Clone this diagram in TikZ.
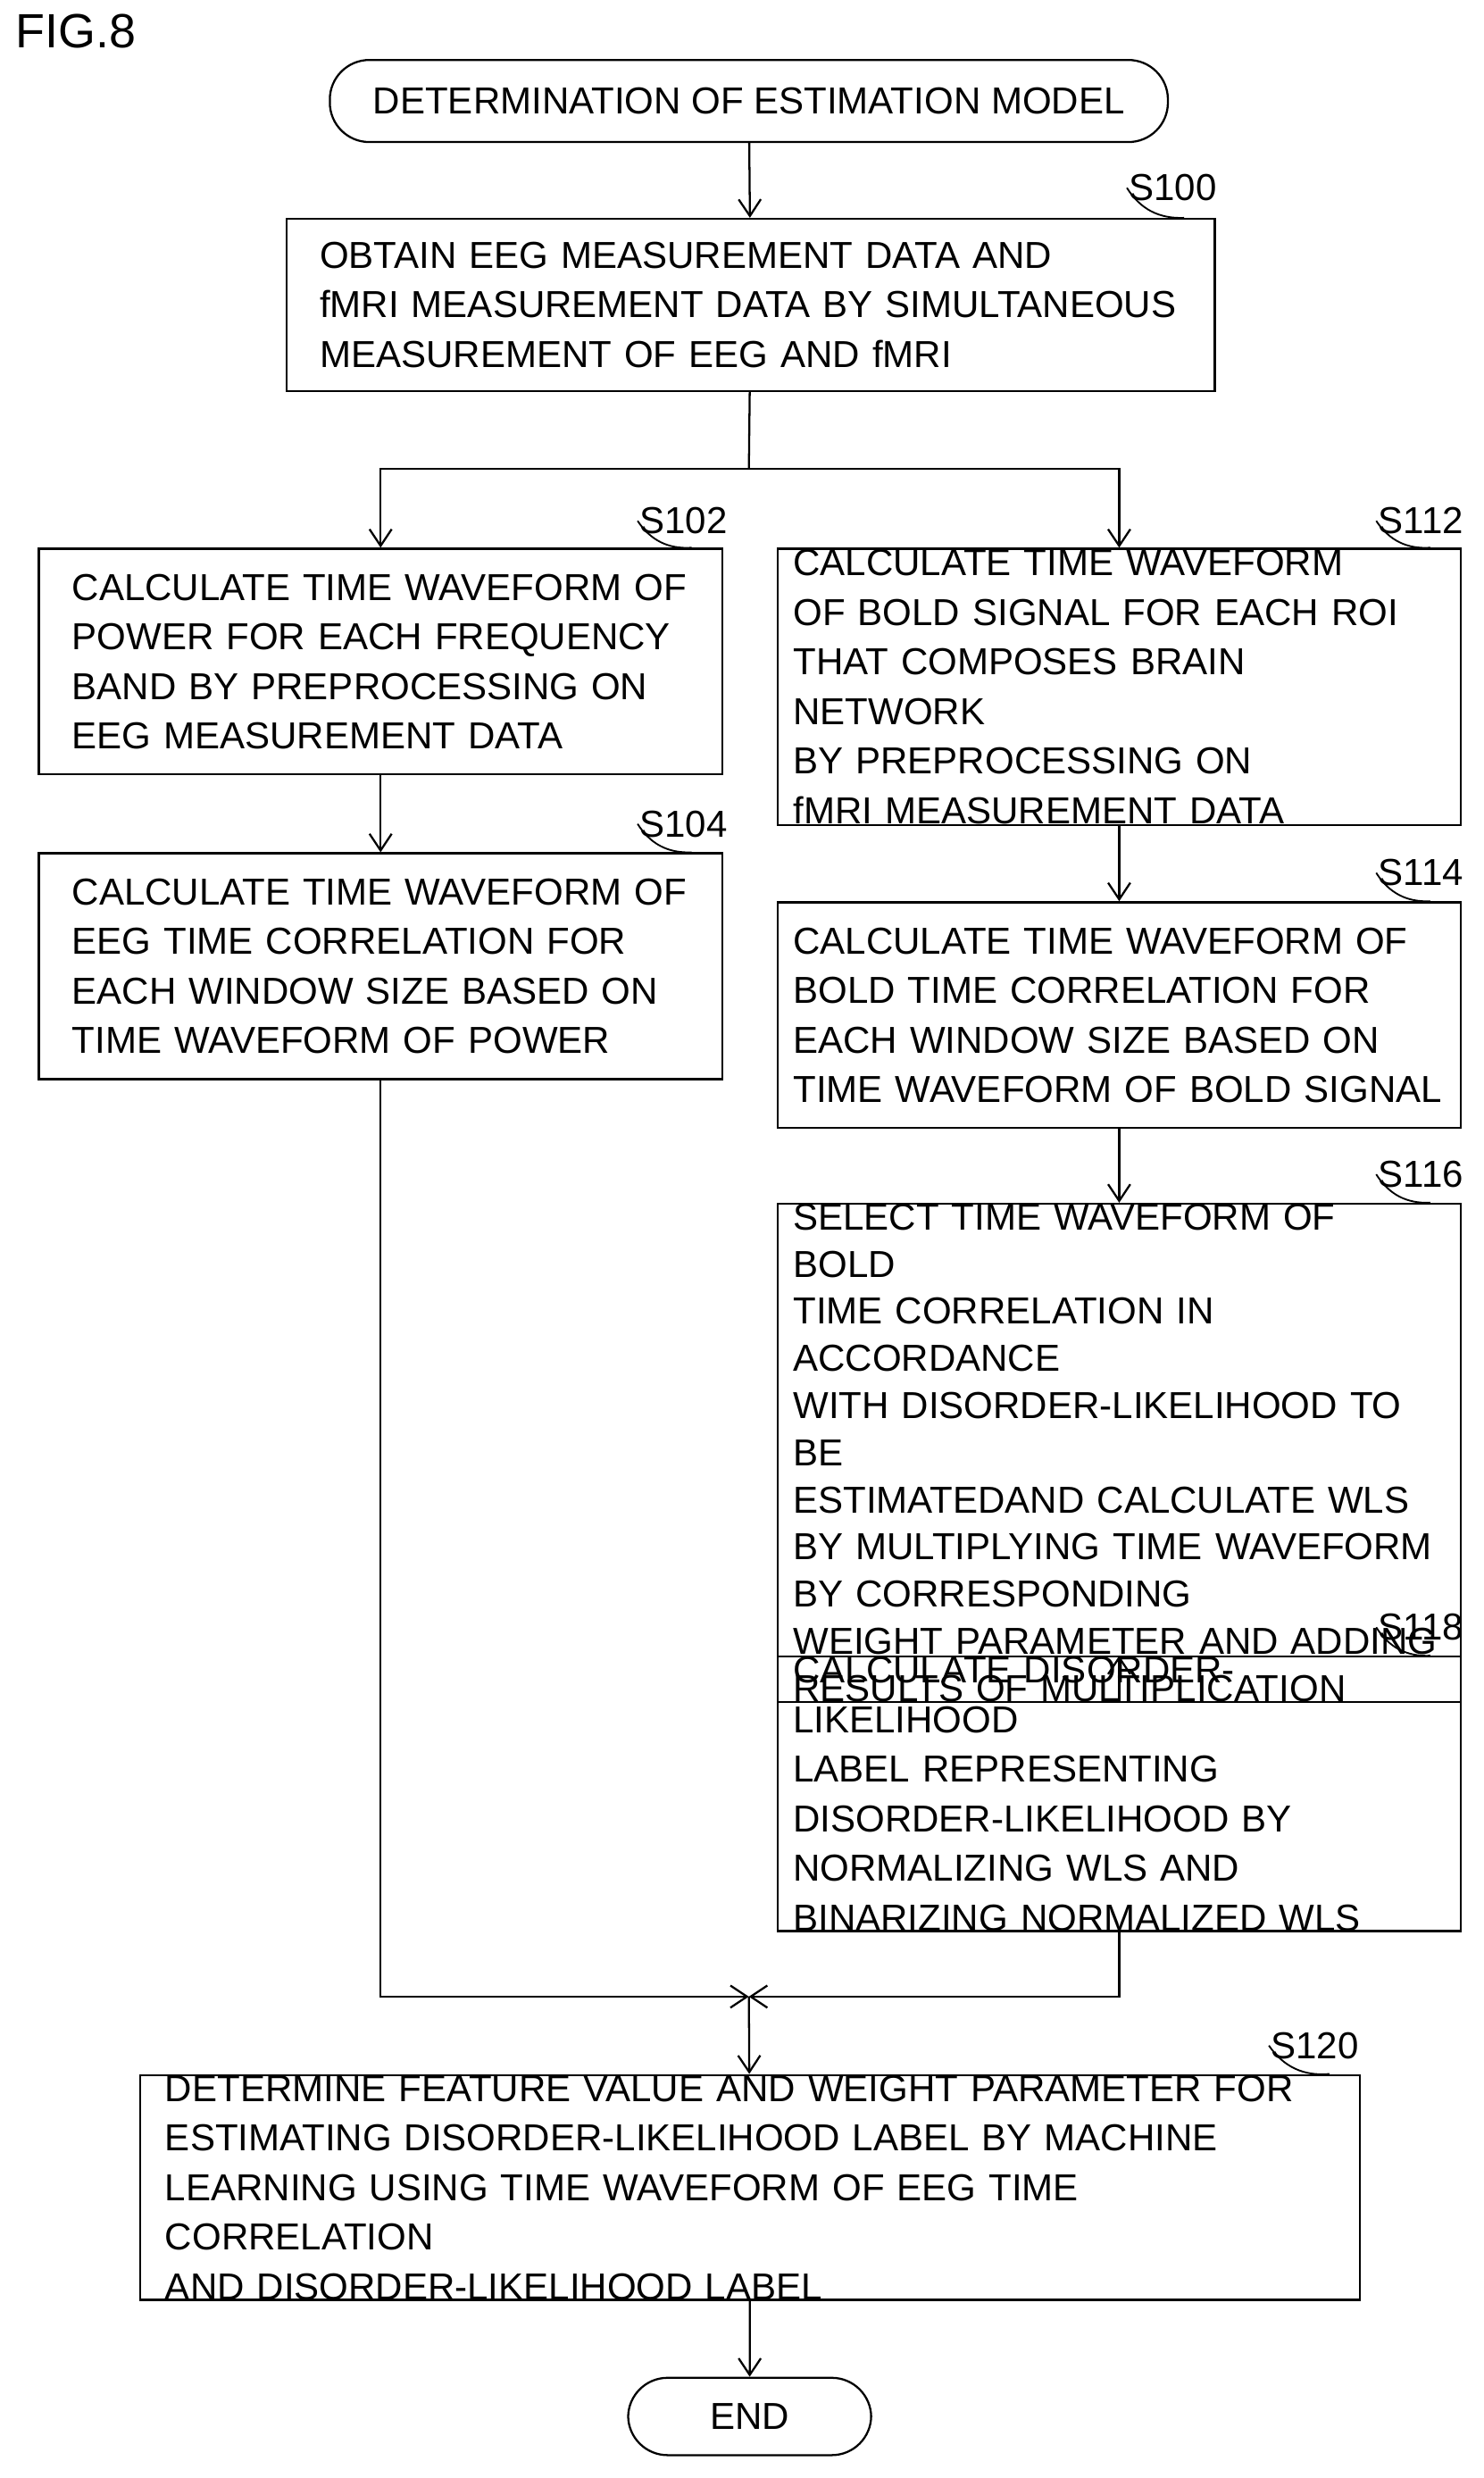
\documentclass[tikz,border=0pt]{standalone}
\usepackage{fontspec}
\setmainfont{Liberation Sans}
\usetikzlibrary{arrows.meta,positioning}
\newcommand\boxfont{\fontsize{20.3}{26.8}\selectfont\hyphenpenalty=10000\relax\hbadness=10000\relax}
\newcommand\tightfont{\fontsize{20.3}{25.5}\selectfont\hyphenpenalty=10000\relax\hbadness=10000\relax}
\tikzset{
  box/.style={draw, line width=1.1pt, anchor=north west, align=left,
    inner xsep=0.63cm, inner ysep=0pt, font=\boxfont},
  rbox/.style={box, inner xsep=0.3cm, text width=12.39cm},
  lbox/.style={box, text width=11.73cm},
  term/.style={draw, line width=1.1pt, rounded corners=0.75cm,
    font=\fontsize{20.3}{22}\selectfont},
  steplabel/.style={anchor=west, inner sep=1pt, font=\fontsize{20.3}{22}\selectfont},
  leader/.style={line width=0.9pt},
  flow/.style={line width=1.1pt, -{Straight Barb[length=9pt,width=12pt]}},
  line/.style={line width=1.1pt}
}
\begin{document}
\begin{tikzpicture}[x=0.03cm,y=-0.03cm]
\useasboundingbox (0,0) rectangle (940,1570);
\node[anchor=north west, font=\fontsize{26}{30}\selectfont] (fig) at (6,5) {FIG.8};

% start and end
\node[term, minimum width=15.93cm, minimum height=1.56cm] (start) at (474.5,64) {DETERMINATION OF ESTIMATION MODEL};
\node[term, minimum width=4.62cm, minimum height=1.47cm] (end) at (475,1531) {END};

% process boxes
\node[box, text width=16.38cm, minimum height=3.27cm] (s100) at (181,138)
  {OBTAIN EEG MEASUREMENT DATA AND\\ fMRI MEASUREMENT DATA BY SIMULTANEOUS\\ MEASUREMENT OF EEG AND fMRI};
\node[lbox, minimum height=4.29cm] (s102) at (24,347)
  {CALCULATE TIME WAVEFORM OF\\ POWER FOR EACH FREQUENCY\\ BAND BY PREPROCESSING ON\\ EEG MEASUREMENT DATA};
\node[lbox, minimum height=4.29cm] (s104) at (24,540)
  {CALCULATE TIME WAVEFORM OF\\ EEG TIME CORRELATION FOR\\ EACH WINDOW SIZE BASED ON\\ TIME WAVEFORM OF POWER};
\node[rbox, minimum height=5.25cm] (s112) at (492,347)
  {CALCULATE TIME WAVEFORM\\ OF BOLD SIGNAL FOR EACH ROI\\ THAT COMPOSES BRAIN NETWORK\\ BY PREPROCESSING ON\\ fMRI MEASUREMENT DATA};
\node[rbox, minimum height=4.29cm] (s114) at (492,571)
  {CALCULATE TIME WAVEFORM OF\\ BOLD TIME CORRELATION FOR\\ EACH WINDOW SIZE BASED ON\\ TIME WAVEFORM OF BOLD SIGNAL};
\node[rbox, minimum height=7.14cm, font=\tightfont] (s116) at (492,762)
  {SELECT TIME WAVEFORM OF BOLD\\ TIME CORRELATION IN ACCORDANCE\\ WITH DISORDER-LIKELIHOOD TO BE\\ ESTIMATEDAND CALCULATE WLS\\ BY MULTIPLYING TIME WAVEFORM\\ BY CORRESPONDING\\ WEIGHT PARAMETER AND ADDING\\ RESULTS OF MULTIPLICATION};
\node[rbox, minimum height=5.19cm] (s118) at (492,1049)
  {CALCULATE DISORDER-LIKELIHOOD\\ LABEL REPRESENTING\\ DISORDER-LIKELIHOOD BY\\ NORMALIZING WLS AND\\ BINARIZING NORMALIZED WLS};
\node[box, text width=22.23cm, minimum height=4.23cm, inner xsep=0.48cm] (s120) at (88,1314)
  {DETERMINE FEATURE VALUE AND WEIGHT PARAMETER FOR\\ ESTIMATING DISORDER-LIKELIHOOD LABEL BY MACHINE\\ LEARNING USING TIME WAVEFORM OF EEG TIME CORRELATION\\ AND DISORDER-LIKELIHOOD LABEL};

% step labels
\foreach \name/\txt/\x/\y in {s100/S100/714/119, s102/S102/404/330, s112/S112/872/330,
    s104/S104/404/522, s114/S114/872/553, s116/S116/872/744, s118/S118/872/1031, s120/S120/804/1296} {
  \node[steplabel] (l\name) at (\x,\y) {\txt};
  \draw[leader] ([xshift=-0.6cm]\name.north east) to[bend left=30] (l\name.west);
}

% connectors
\coordinate (split) at (474.5,297);
\coordinate (merge) at (474.5,1265);
\draw[flow] (start) -- (s100);
\draw[line] (s100) -- (split);
\draw[flow] (split) -| (s102);
\draw[flow] (split) -| (s112);
\draw[flow] (s102) -- (s104);
\draw[flow] (s112) -- (s114);
\draw[flow] (s114) -- (s116);
\draw[flow] (s116) -- (s118);
\draw[flow] (s104.south -| s102) |- (merge);
\draw[flow] (s118) |- (merge);
\draw[flow] (merge) -- (s120);
\draw[flow] (s120) -- (end);
\end{tikzpicture}
\end{document}
